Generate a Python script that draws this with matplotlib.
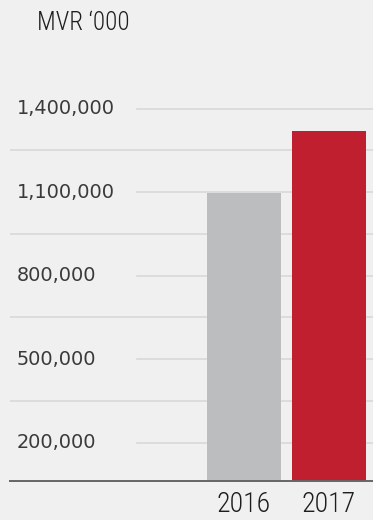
import matplotlib.pyplot as plt
from matplotlib import font_manager
from matplotlib.transforms import blended_transform_factory

# data (MVR '000)
years = ['2016', '2017']
values = [1097000, 1320000]
bar_colors = ['#bcbdbf', '#c01f2f']

labelled_ticks = [200000, 500000, 800000, 1100000, 1400000]
minor_ticks = [350000, 650000, 950000, 1250000]

bg = '#f0f0f0'

# use a condensed face if one is installed, else shrink the regular one
installed = {f.name for f in font_manager.fontManager.ttflist}
narrow = 'Liberation Sans'
unit_size, year_size = 15.2, 18.5
for name in ['Roboto Condensed', 'Liberation Sans Narrow', 'Arial Narrow']:
    if name in installed:
        narrow = name
        unit_size, year_size = 18, 20
        break

W, H = 373, 520
fig = plt.figure(figsize=(W / 100, H / 100), dpi=100, facecolor=bg)
ax = fig.add_axes([10 / W, (H - 481) / H, (W - 10) / W, (481 - 100) / H])
ax.set_facecolor(bg)

x = range(len(years))
ax.bar(x, values, width=0.87, color=bar_colors, zorder=3)

ax.set_xlim(-2.753, 1.518)
ax.set_ylim(62000, 1431000)

# gridlines: short ones for labelled values, full width ones in between
for v in labelled_ticks:
    ax.axhline(v, xmin=0.35, xmax=1, color='#d6d6d6', lw=1.1, zorder=1)
for v in minor_ticks:
    ax.axhline(v, xmin=0, xmax=1, color='#d6d6d6', lw=1.1, zorder=1)

trans = blended_transform_factory(ax.transAxes, ax.transData)
for v in labelled_ticks:
    ax.text(0.018, v, f'{v:,}', transform=trans, ha='left', va='center',
            fontsize=13.9, color='#3a3a3a', family='DejaVu Sans')

for s in ['top', 'right', 'left']:
    ax.spines[s].set_visible(False)
ax.spines['bottom'].set_color('#666666')
ax.spines['bottom'].set_linewidth(1.4)
ax.spines['bottom'].set_zorder(4)

ax.set_yticks([])
ax.set_xticks(list(x))
ax.set_xticklabels(years, family=narrow, fontsize=year_size, color='#1e1e1e',
                   fontweight='light')
ax.tick_params(axis='x', length=0, pad=7.5)

fig.text(37 / W, 1 - 30.5 / H, "MVR \u2018000", family=narrow, fontsize=unit_size,
         color='#1e1e1e', ha='left', va='baseline', fontweight='light')

fig.savefig('out.png', dpi=100, facecolor=bg)
